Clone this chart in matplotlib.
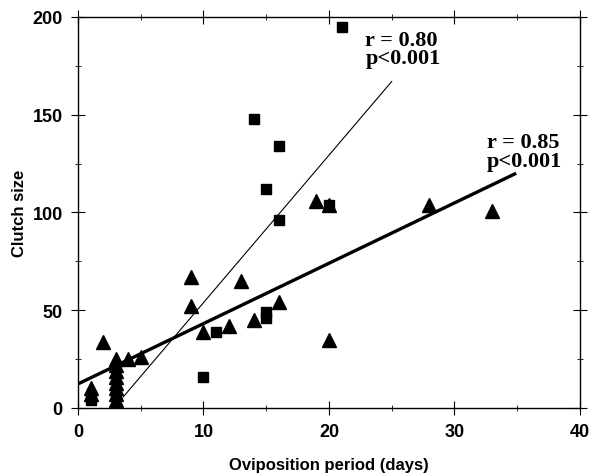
import matplotlib
matplotlib.use("Agg")
import matplotlib.pyplot as plt
import numpy as np
from matplotlib.ticker import MultipleLocator

# Squares (series with r = 0.80)
sq_x = [21, 14, 16, 15, 16, 20, 15, 15, 11, 10, 1, 3]
sq_y = [195, 148, 134, 112, 96, 104, 49, 46, 39, 16, 4, 6]

# Triangles (series with r = 0.85)
tri_x = [1, 1, 2, 3, 3, 3, 3, 3, 3, 3, 3, 4, 5, 9, 9, 10, 12, 13, 14, 16, 19, 20, 20, 28, 33]
tri_y = [10, 7, 34, 25, 22, 19, 16, 13, 10, 7, 4, 25, 26, 67, 52, 39, 42, 65, 45, 54, 106, 104, 35, 104, 101]

# Regression lines (end points)
thin_x = [3.6, 25.0]
thin_y = [5.6, 167.0]
thick_x = [0, 34.8]
thick_y = [12.3, 119.7]

xticks = [0, 10, 20, 30, 40]
yticks = [0, 50, 100, 150, 200]

fig = plt.figure(figsize=(5.93, 4.77), dpi=100)
ax = fig.add_axes([0.1315, 0.1426, 0.8465, 0.8197])

ax.plot(thin_x, thin_y, color="black", lw=0.8)
ax.plot(thick_x, thick_y, color="black", lw=2.4)
ax.plot(tri_x, tri_y, linestyle="none", marker="^", color="black", markersize=10.5)
ax.plot(sq_x, sq_y, linestyle="none", marker="s", color="black", markersize=7.5)

ax.set_xlim(0, 40)
ax.set_ylim(0, 200)
ax.set_xticks(xticks)
ax.set_yticks(yticks)
ax.xaxis.set_minor_locator(MultipleLocator(5))
ax.yaxis.set_minor_locator(MultipleLocator(25))
ax.tick_params(which="both", direction="inout", labelsize=13, pad=6)
ax.tick_params(which="major", length=10)
ax.tick_params(which="minor", length=5)
ax.tick_params(which="both", top=True, right=True)
for lab in ax.get_xticklabels() + ax.get_yticklabels():
    lab.set_fontweight("bold")
    lab.set_fontfamily("Liberation Sans")
for s in ax.spines.values():
    s.set_linewidth(1.0)

ax.set_xlabel("Oviposition period (days)", fontsize=12, fontweight="bold",
              family="Liberation Sans", labelpad=12)
ax.set_ylabel("Clutch size", fontsize=12, fontweight="bold",
              family="Liberation Sans", labelpad=4)

ax.text(22.9, 193.5, "r = 0.80\np<0.001", fontsize=16, fontweight="bold",
        family="Liberation Serif", linespacing=0.9, va="top", ha="left")
ax.text(32.6, 141, "r = 0.85\np<0.001", fontsize=16, fontweight="bold",
        family="Liberation Serif", linespacing=0.9, va="top", ha="left")

fig.savefig("out.png", dpi=100)
